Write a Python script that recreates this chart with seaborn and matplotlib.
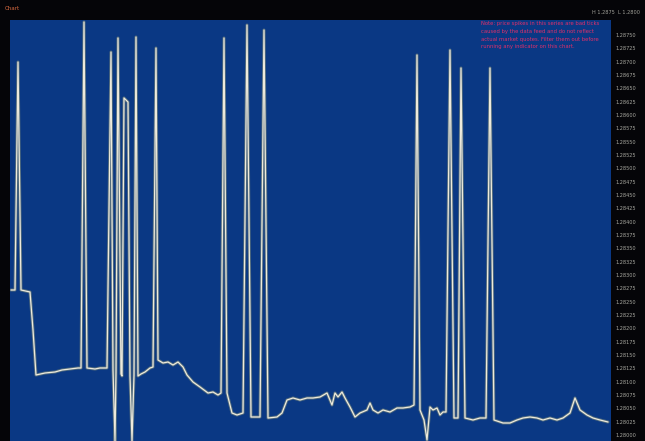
import matplotlib
matplotlib.use('Agg')
import matplotlib.pyplot as plt
import seaborn as sns
import numpy as np
import pandas as pd

# bar index (time) and price level
bars = [11, 15, 18, 21, 30, 33, 36, 45, 55, 62, 70, 78, 81, 84, 87, 95, 100, 107,
        111, 113, 115, 116, 118, 121, 122, 124, 126, 128, 130, 132, 134, 136, 138,
        141, 145, 150, 153, 156, 158, 163, 168, 173, 178, 183, 187, 193, 200, 208,
        213, 218, 221, 224, 227, 232, 237, 243, 247, 251, 256, 260, 264, 268, 277,
        282, 287, 293, 300, 307, 313, 320, 327, 332, 335, 338, 342, 345, 350, 355,
        360, 367, 370, 373, 378, 383, 390, 397, 403, 410, 414, 417, 420, 424, 427,
        430, 433, 437, 440, 443, 446, 450, 454, 458, 461, 465, 473, 480, 486, 490,
        494, 503, 510, 517, 523, 530, 537, 543, 550, 557, 563, 570, 575, 580, 587,
        593, 600, 608]
price = [151, 151, 379, 151, 149, 111, 66, 68, 69, 71, 72, 73, 73, 419, 73, 72,
         73, 73, 389, 71, 0, 69, 403, 67, 65, 343, 341, 339, 65, 0, 66, 404, 65,
         67, 69, 73, 74, 393, 81, 78, 79, 76, 79, 74, 66, 59, 54, 48, 49, 46, 48,
         403, 48, 28, 26, 28, 416, 24, 24, 24, 411, 23, 24, 28, 41, 43, 41, 43, 43,
         44, 48, 36, 48, 44, 49, 43, 34, 24, 28, 31, 38, 31, 28, 31, 29, 33, 33, 34,
         36, 386, 31, 21, 1, 34, 31, 33, 26, 29, 29, 391, 23, 23, 373, 23, 21, 23,
         23, 373, 21, 18, 18, 21, 23, 24, 23, 21, 23, 21, 23, 28, 43, 31, 26, 23,
         21, 19]

# right axis labels
tick_vals = [6 + 13.33 * i for i in range(31)]
tick_text = ['%.5f' % (1.28000 + 0.00025 * i) for i in range(31)]

note_lines = ['Note: price spikes in this series are bad ticks',
              'caused by the data feed and do not reflect',
              'actual market quotes. Filter them out before',
              'running any indicator on this chart.']

df = pd.DataFrame({'bar': bars, 'price': price})

sns.set_style('dark')
fig = plt.figure(figsize=(6.45, 4.41), dpi=100, facecolor='#050508')
ax = fig.add_axes([10 / 645, 0, 601 / 645, 421 / 441])
ax.set_facecolor('#0a3884')

# soft yellow glow under a thin pale line
sns.lineplot(data=df, x='bar', y='price', ax=ax, color='#d8cc70', lw=2.2, alpha=0.35)
sns.lineplot(data=df, x='bar', y='price', ax=ax, color='#eeeadc', lw=0.9)

ax.set_xlim(10, 611)
ax.set_ylim(0, 421)
ax.set_xlabel('')
ax.set_ylabel('')
ax.set_xticks([])
ax.yaxis.tick_right()
ax.set_yticks(tick_vals)
ax.set_yticklabels(tick_text, fontsize=3.6, color='#a8a8a0')
ax.tick_params(axis='y', length=0, pad=3)
for s in ax.spines.values():
    s.set_visible(False)
ax.grid(False)

fig.text(5 / 645, 1 - 8 / 441, 'Chart', fontsize=4, color='#d86a40', va='center')
fig.text(640 / 645, 1 - 12 / 441, 'H 1.2875  L 1.2800', fontsize=3.6,
         color='#a0a098', va='center', ha='right')
for i, line in enumerate(note_lines):
    fig.text(481 / 645, 1 - (24 + i * 7.5) / 441, line, fontsize=3.8,
             color='#e0306a', va='center')

fig.savefig('out.png', dpi=100, facecolor=fig.get_facecolor())
